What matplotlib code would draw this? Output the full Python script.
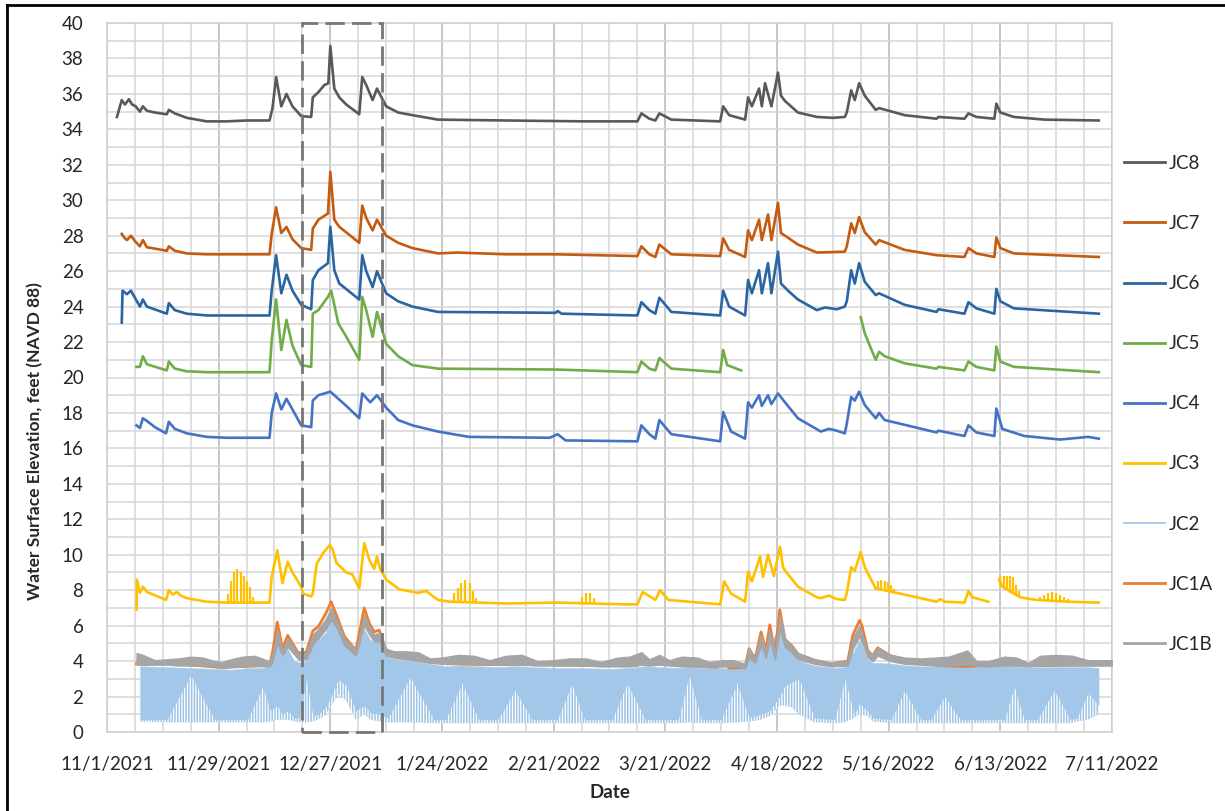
import numpy as np
import matplotlib
matplotlib.use('Agg')
import matplotlib.pyplot as plt
import matplotlib.dates as mdates
from matplotlib.lines import Line2D
from matplotlib.ticker import FixedLocator, FuncFormatter, MultipleLocator

plt.rcParams['font.family'] = ['Lato', 'DejaVu Sans']
plt.rcParams['hatch.linewidth'] = 0.9
plt.rcParams['hatch.color'] = 'white'

# ---------------------------------------------------------------
# data: days since 11/1/2021, water surface elevation (ft NAVD 88)
start_date = '2021-11-01'
end_days = 252            # 7/11/2022
box_range = ('2021-12-20', '2022-01-09')

jc8_days = [2.5, 3.7, 4.5, 5.5, 6.3, 7.2, 8.25, 9.0, 10, 12, 15, 15.5, 17, 20, 25, 30, 35,
            40.75, 41.5, 42.4, 43.7, 45, 46.5, 48.7, 51.2, 51.6, 53, 54.5, 55.5, 56, 57,
            58.25, 60, 63.25, 64, 65, 66.6, 67.7, 70, 73, 76.6, 83, 100, 120, 133, 134,
            136, 137.5, 138.5, 141.5, 153.75, 154.5, 156, 160, 160.75, 161.7, 163.5,
            164.2, 165, 166.6, 168.25, 169, 170, 173.25, 178, 182, 185, 185.5, 186.6,
            187.5, 188.6, 190, 192.75, 193.6, 200, 208, 208.5, 215, 216, 218, 222.5, 223,
            224, 227.4, 235, 248.7]
jc8 = [34.7, 35.65, 35.4, 35.7, 35.4, 35.3, 35.0, 35.3, 35.05, 34.95, 34.85, 35.1, 34.9,
       34.65, 34.45, 34.45, 34.5, 34.5, 35.2, 36.95, 35.3, 36.0, 35.3, 34.75, 34.7, 35.8,
       36.1, 36.5, 36.6, 38.7, 36.3, 35.8, 35.4, 34.85, 36.95, 36.5, 35.65, 36.3, 35.3,
       34.95, 34.8, 34.55, 34.5, 34.45, 34.45, 34.9, 34.6, 34.5, 34.9, 34.55, 34.45, 35.3,
       34.8, 34.55, 35.8, 35.3, 36.3, 35.3, 36.6, 35.3, 37.2, 35.9, 35.6, 34.95, 34.7,
       34.65, 34.7, 34.95, 36.2, 35.65, 36.6, 35.9, 35.1, 35.2, 34.8, 34.6, 34.7, 34.6,
       34.9, 34.7, 34.6, 35.45, 34.95, 34.7, 34.55, 34.5]

jc7_days = [3.7, 4.3, 5.0, 6.0, 7.0, 8.25, 9.0, 10, 15, 15.5, 17, 20, 25, 40.75, 41.3, 42.4,
            43.7, 45, 46.5, 48.7, 51.2, 51.6, 53, 55.4, 56, 57, 58.25, 63.25, 64, 65, 66.6,
            67.7, 70, 73, 76.6, 83, 88, 100, 112.5, 133, 134, 136, 137.5, 138.5, 141.5,
            153.75, 154.5, 156, 160, 160.75, 161.7, 163.5, 164.2, 165.75, 166.6, 168.25,
            169, 171, 173.25, 178, 185, 185.5, 186.6, 187.5, 188.6, 190, 192.75, 193.6,
            200, 208, 215, 216, 218, 222.5, 223, 224, 227.4, 248.7]
jc7 = [28.1, 27.9, 27.75, 28.0, 27.7, 27.4, 27.75, 27.35, 27.15, 27.4, 27.15, 27.0, 26.95,
       26.95, 28.1, 29.6, 28.15, 28.5, 27.8, 27.3, 27.2, 28.4, 28.9, 29.25, 31.6, 28.9,
       28.5, 27.6, 29.7, 29.0, 28.3, 28.9, 28.0, 27.6, 27.3, 27.0, 27.05, 26.95, 26.95,
       26.85, 27.4, 26.95, 26.8, 27.5, 26.95, 26.85, 27.85, 27.2, 26.8, 28.3, 27.75, 28.9,
       27.75, 29.2, 27.75, 29.85, 28.15, 27.85, 27.5, 27.05, 27.1, 27.4, 28.7, 28.15,
       29.05, 28.2, 27.5, 27.75, 27.2, 26.9, 26.8, 27.3, 27.0, 26.8, 27.9, 27.3, 27.0, 26.8]

jc6_days = [3.7, 3.9, 5.0, 6.0, 7.0, 8.25, 9.0, 10, 15, 15.5, 17, 20, 25, 40.75, 41.3, 42.4,
            43.7, 45, 46.5, 48.7, 51.2, 51.6, 53, 55.4, 56, 57, 58.25, 63.25, 64, 65, 66.6,
            67.7, 70, 73, 76.6, 83, 112.5, 113, 114, 133, 134, 136, 137.5, 138.5, 141.5,
            153.75, 154.5, 156, 160, 160.75, 161.7, 163.5, 164.2, 165.75, 166.6, 168.25,
            169, 171, 173.25, 178, 180, 183, 185, 185.5, 186.6, 187.5, 188.6, 190, 192.75,
            193.6, 200, 208, 208.5, 215, 216, 218, 222.5, 223, 224, 227.4, 248.7]
jc6 = [23.1, 24.9, 24.7, 24.9, 24.5, 24.0, 24.4, 24.0, 23.6, 24.2, 23.8, 23.6, 23.5, 23.5,
       24.9, 26.9, 24.75, 25.8, 24.9, 24.1, 23.85, 25.5, 26.05, 26.45, 28.5, 26.05, 25.3,
       24.4, 26.9, 26.0, 25.1, 26.0, 24.75, 24.3, 24.0, 23.7, 23.65, 23.75, 23.6, 23.5,
       24.25, 23.8, 23.6, 24.5, 23.7, 23.5, 24.9, 24.0, 23.5, 25.5, 24.75, 26.05, 24.75,
       26.45, 24.75, 27.1, 25.3, 24.85, 24.4, 23.8, 23.95, 23.85, 24.0, 24.3, 26.05, 25.3,
       26.45, 25.4, 24.65, 24.75, 24.1, 23.7, 23.85, 23.6, 24.25, 23.9, 23.6, 25.0, 24.3,
       23.9, 23.6]

jc5_days = [7.4, 8.25, 9.0, 10, 15, 15.5, 17, 20, 25, 40.75, 41.3, 42.4, 43.7, 45, 46.5,
            48.7, 51.2, 51.6, 53, 55.4, 56.2, 57, 58, 60, 63.25, 64, 65, 66.6, 67.7, 70, 73,
            76.6, 83, 112.5, 133, 134, 136, 137.5, 138.5, 141.5, 153.75, 154.5, 155.5, 159,
            160, 189, 190, 192, 192.75, 193.6, 195, 200, 208, 208.5, 215, 216, 218, 222.5,
            223, 224, 227.4, 248.7]
jc5 = [20.6, 20.6, 21.2, 20.75, 20.4, 20.9, 20.5, 20.35, 20.3, 20.3, 22.1, 24.4, 21.55,
       23.25, 21.8, 20.7, 20.6, 23.6, 23.8, 24.55, 24.9, 24.1, 23.05, 22.3, 21.0, 24.55,
       23.8, 22.3, 23.7, 21.9, 21.2, 20.7, 20.5, 20.45, 20.3, 20.9, 20.5, 20.4, 21.1, 20.5,
       20.3, 21.55, 20.7, 20.4, np.nan, 23.4, 22.5, 21.4, 21.0, 21.45, 21.2, 20.8, 20.5,
       20.6, 20.4, 20.9, 20.6, 20.4, 21.75, 20.9, 20.6, 20.3]

jc4_days = [7.4, 8.25, 9.0, 10, 12, 14.8, 15.5, 17, 20, 25, 30, 40, 40.75, 41.3, 42.4, 43.7,
            45, 46.5, 48.7, 51.2, 51.6, 53, 54.5, 56, 57.5, 60, 63.25, 64, 66, 67.7, 70, 73,
            76.6, 83, 90.75, 111, 113, 115, 133, 134, 136, 137.5, 138.5, 141.5, 153.75,
            154.5, 156.5, 160, 160.75, 161.7, 163.5, 164.2, 165.75, 166.6, 168.25, 170,
            173.25, 179, 181, 183, 185, 185.5, 186.6, 187.5, 188.6, 190, 192.75, 193.6, 195,
            208, 208.5, 215, 216, 218, 222.5, 223, 224.5, 230, 239, 246, 248.7]
jc4 = [17.3, 17.15, 17.7, 17.55, 17.2, 16.85, 17.5, 17.1, 16.85, 16.65, 16.6, 16.6, 16.6,
       18.0, 19.1, 18.2, 18.8, 18.2, 17.3, 17.2, 18.7, 19.0, 19.1, 19.2, 18.9, 18.4, 17.7,
       19.1, 18.6, 19.0, 18.3, 17.6, 17.3, 16.95, 16.65, 16.6, 16.8, 16.45, 16.4, 17.3,
       16.8, 16.55, 17.6, 16.8, 16.4, 18.05, 16.95, 16.55, 18.6, 18.3, 19.0, 18.4, 19.0,
       18.5, 19.1, 18.6, 17.7, 16.95, 17.1, 17.0, 16.85, 17.4, 18.9, 18.7, 19.2, 18.45,
       17.7, 18.0, 17.6, 16.9, 17.0, 16.7, 17.3, 16.9, 16.7, 18.25, 17.1, 16.7, 16.5,
       16.65, 16.55]

jc3_days = [7.4, 7.5, 8.25, 9.0, 10, 14.8, 15.5, 16.5, 17.5, 18.5, 20, 25, 30, 40.75, 41.3,
            42.7, 44, 45.3, 46.5, 48.7, 49.2, 51.2, 51.6, 52.6, 54.2, 55.9, 56.6, 57.5, 60,
            61.5, 63.25, 64.5, 65.8, 67, 67.7, 68.5, 70, 73.25, 78, 80, 83, 86, 100, 113,
            130, 133, 134.3, 137.5, 138.7, 140.75, 153.75, 154.75, 156.5, 160, 160.75,
            161.7, 163.75, 164.5, 165.75, 167.2, 168.75, 169.5, 170.2, 173.25, 178, 179,
            181, 183, 185, 185.5, 186.6, 187.5, 189, 190, 192.75, 198, 208, 209, 210, 215,
            216, 217, 221, 222, 223.7, 224.5, 229, 233, 241, 248.7]
jc3 = [6.9, 8.6, 7.85, 8.2, 7.9, 7.45, 8.0, 7.75, 7.9, 7.7, 7.55, 7.35, 7.3, 7.3, 8.75,
       10.25, 8.4, 9.6, 9.0, 8.2, 7.8, 7.65, 7.8, 9.5, 10.1, 10.55, 10.3, 9.55, 9.0, 8.9,
       8.1, 10.65, 9.7, 9.2, 9.9, 9.2, 8.6, 8.05, 7.85, 7.95, 7.45, 7.35, 7.25, 7.3, 7.2,
       7.2, 7.9, 7.45, 8.0, 7.45, 7.2, 8.5, 7.8, 7.35, 9.05, 8.5, 9.9, 8.75, 10.0, 8.8,
       10.45, 9.3, 9.05, 8.2, 7.6, 7.55, 7.7, 7.5, 7.45, 7.85, 9.3, 9.1, 10.15, 9.3, 8.1,
       7.85, 7.35, 7.5, 7.35, 7.3, 7.95, 7.6, 7.35, np.nan, 8.6, 8.2, 7.6, 7.45, 7.35, 7.3]

# JC3 short tidal spikes
jc3_spike_days = [30.3, 31.1, 31.9, 32.7, 33.5, 34.3, 35.1, 35.9, 36.7,
                  87.0, 88.0, 88.8, 89.8, 90.9, 91.7, 92.6,
                  119, 120, 121, 122,
                  193.3, 194.2, 195.0, 195.8, 196.6, 197.4,
                  224.0, 224.8, 225.6, 226.4, 227.2, 228.0, 228.8,
                  234, 235, 236, 237, 238, 239, 240, 241]
jc3_spike_base = [7.3, 7.3, 7.3, 7.3, 7.3, 7.3, 7.3, 7.3, 7.3,
                  7.35, 7.35, 7.35, 7.35, 7.35, 7.35, 7.35,
                  7.25, 7.25, 7.25, 7.25,
                  8.1, 8.05, 8.0, 7.95, 7.9, 7.85,
                  8.3, 8.1, 7.95, 7.85, 7.8, 7.7, 7.65,
                  7.4, 7.4, 7.4, 7.4, 7.4, 7.4, 7.4, 7.4]
jc3_spike_top = [7.8, 8.5, 9.0, 9.2, 9.0, 8.8, 8.5, 8.2, 7.6,
                 7.85, 8.1, 8.4, 8.6, 8.4, 7.95, 7.55,
                 7.6, 7.85, 7.85, 7.55,
                 8.5, 8.55, 8.5, 8.45, 8.3, 8.05,
                 8.8, 8.8, 8.8, 8.8, 8.75, 8.3, 7.95,
                 7.6, 7.75, 7.85, 7.9, 7.85, 7.75, 7.6, 7.5]

jc2_days = [8.25, 15, 21, 27, 31, 35.3, 39, 41, 42.7, 44, 45.3, 47, 48.3, 50, 51.6, 53,
            54.9, 56.2, 58, 60, 62.4, 64.5, 66, 68.25, 70.5, 76, 82, 84.9, 89, 93.25, 98,
            102.3, 106.6, 113, 116.5, 119.7, 126.6, 130.5, 135, 143.25, 146, 149, 154, 158,
            161, 164, 166.2, 168.7, 170, 171.6, 173.5, 177.4, 182.4, 185, 187.4, 188.7,
            190.75, 192, 196.6, 200, 204, 206.6, 210, 214, 225, 227.5, 230, 233.25, 237.5,
            241.6, 243.25, 246, 248.7]
jc2_hi = [3.7, 3.65, 3.6, 3.55, 3.5, 3.6, 3.6, 3.7, 5.0, 4.2, 4.7, 4.0, 3.9, 4.0, 4.8, 5.2,
          5.6, 6.2, 5.6, 5.0, 4.2, 5.8, 5.2, 5.0, 4.2, 4.0, 3.8, 3.7, 3.75, 3.7, 3.65, 3.7,
          3.65, 3.6, 3.6, 3.6, 3.55, 3.6, 3.7, 3.6, 3.65, 3.6, 3.6, 3.6, 4.1, 4.8, 5.0, 5.8,
          5.0, 4.5, 4.0, 3.75, 3.6, 3.65, 4.6, 5.2, 4.1, 3.9, 3.85, 3.75, 3.7, 3.7, 3.7,
          3.7, 3.7, 3.7, 3.65, 3.65, 3.65, 3.65, 3.65, 3.65, 3.6]
jc2_solid = [0.7, 0.7, 3.2, 0.7, 0.7, 0.7, 2.55, 1.2, 1.5, 1.0, 1.2, 0.8, 0.8, 3.0, 0.9,
             1.0, 1.4, 2.0, 3.0, 2.6, 1.2, 1.5, 1.1, 1.0, 0.8, 3.1, 0.7, 0.7, 2.75, 0.7,
             0.7, 2.35, 0.7, 0.7, 2.75, 0.7, 0.7, 2.75, 0.7, 0.7, 3.2, 0.7, 0.7, 2.75, 0.8,
             1.0, 1.2, 2.0, 2.6, 2.8, 3.0, 0.8, 0.7, 3.0, 1.0, 1.6, 1.2, 0.8, 0.7, 2.35,
             0.7, 0.7, 2.0, 0.7, 0.7, 2.55, 0.7, 0.7, 2.35, 0.7, 0.8, 2.2, 1.5]
jc2_lo = [0.6, 0.55, 0.55, 0.55, 0.55, 0.55, 0.55, 0.6, 0.7, 0.7, 0.7, 0.6, 0.55, 0.55,
          0.6, 0.7, 1.0, 1.5, 2.1, 1.8, 0.7, 1.0, 0.7, 0.6, 0.55, 0.55, 0.5, 0.5, 0.5, 0.5,
          0.5, 0.5, 0.5, 0.5, 0.5, 0.5, 0.5, 0.5, 0.5, 0.5, 0.55, 0.5, 0.5, 0.55, 0.6,
          0.7, 0.9, 1.5, 1.5, 1.4, 1.0, 0.55, 0.5, 0.55, 0.8, 1.0, 0.9, 0.6, 0.5, 0.5,
          0.5, 0.5, 0.5, 0.5, 0.5, 0.5, 0.5, 0.5, 0.5, 0.5, 0.6, 0.7, 1.0]

jc1a_days = [7.4, 10, 15, 15.5, 20, 28, 35, 40.75, 41.5, 42.7, 44, 45.3, 48, 50, 51.6, 53,
             54.9, 56.2, 57.7, 59.5, 62.4, 64.5, 65.75, 67, 68.25, 70, 72.5, 76, 80, 85, 95,
             110, 120, 133, 134.5, 136, 138.5, 141, 153, 154.5, 156, 160, 161, 162.5, 164,
             165.2, 166.2, 167.5, 168.7, 170, 171.6, 173.25, 177.4, 181.6, 185.75, 187,
             188.7, 189.3, 190.75, 192, 193.25, 196.5, 203, 209, 215, 220, 225, 235, 252]
jc1a = [3.85, 3.8, 3.95, 4.0, 3.8, 3.65, 3.7, 3.75, 4.5, 6.2, 4.7, 5.45, 4.45, 4.5, 5.7,
        5.95, 6.7, 7.35, 6.5, 5.4, 4.6, 7.0, 6.15, 5.65, 5.75, 4.6, 4.4, 4.25, 4.0, 3.85,
        3.8, 3.8, 3.75, 3.75, 4.15, 3.8, 4.2, 3.8, 3.65, 4.0, 3.6, 3.65, 4.7, 4.1, 5.65,
        4.6, 6.05, 4.4, 6.9, 5.2, 4.9, 4.4, 4.05, 3.85, 4.0, 5.45, 6.3, 6.0, 4.6, 4.3,
        4.75, 4.3, 3.9, 3.75, 3.7, 3.75, 3.8, 3.75, 3.8]

jc1b_days = [7.4, 9, 12, 15, 18, 21, 24, 27, 29, 31, 34, 37, 40, 40.75, 41.5, 42.7, 44,
             45.3, 48, 50, 51.6, 53, 54.9, 56.2, 57.7, 59.5, 62.4, 64.5, 65.75, 67, 68.25,
             70, 72, 75, 78, 81, 84, 88, 92, 96, 100, 104, 108, 112, 116, 120, 124, 128,
             131, 134, 136, 138.5, 141, 144, 148, 151, 154.5, 157, 160, 161, 162.5, 164,
             165.2, 166.2, 167.5, 168.7, 170, 171.6, 173.25, 177.4, 181.6, 185.75, 187,
             188.7, 190.75, 192, 193.25, 196.5, 200, 204, 208, 211, 215.75, 218, 221, 225,
             228, 231, 234, 238, 242, 246, 252]
jc1b_hi = [4.45, 4.35, 4.05, 4.1, 4.15, 4.25, 4.2, 4.0, 3.95, 4.1, 4.25, 4.3, 4.05, 4.0,
           4.4, 5.8, 4.6, 5.3, 4.4, 4.5, 5.5, 5.8, 6.4, 7.0, 6.3, 5.3, 4.6, 6.6, 6.0, 5.5,
           5.6, 4.7, 4.55, 4.55, 4.5, 4.15, 4.2, 4.35, 4.3, 4.05, 4.3, 4.35, 4.0, 4.05,
           4.15, 4.15, 3.95, 4.2, 4.25, 4.5, 4.1, 4.35, 4.05, 4.25, 4.2, 3.95, 4.05, 4.05,
           3.85, 4.75, 4.2, 5.5, 4.6, 5.8, 4.5, 6.6, 5.3, 4.9, 4.45, 4.1, 3.9, 4.05, 5.3,
           6.0, 4.6, 4.35, 4.75, 4.35, 4.2, 4.15, 4.2, 4.25, 4.6, 4.0, 4.0, 4.25, 4.2, 3.9,
           4.3, 4.35, 4.3, 4.05, 4.05]
jc1b_lo = [3.8, 3.8, 3.8, 3.8, 3.75, 3.75, 3.75, 3.7, 3.6, 3.65, 3.7, 3.75, 3.7, 3.7, 4.0,
           5.0, 4.3, 4.8, 4.1, 4.1, 4.9, 5.3, 5.8, 6.3, 5.8, 4.9, 4.3, 6.0, 5.5, 5.1, 5.1,
           4.3, 4.2, 4.1, 4.0, 3.9, 3.85, 3.85, 3.85, 3.8, 3.8, 3.8, 3.75, 3.75, 3.75, 3.75,
           3.7, 3.7, 3.7, 3.8, 3.75, 3.8, 3.75, 3.7, 3.7, 3.65, 3.7, 3.7, 3.6, 4.2, 3.9,
           4.9, 4.2, 5.2, 4.1, 5.8, 4.8, 4.5, 4.1, 3.85, 3.7, 3.75, 4.7, 5.4, 4.2, 4.0, 4.3,
           4.0, 3.85, 3.8, 3.75, 3.75, 3.8, 3.75, 3.7, 3.75, 3.75, 3.7, 3.75, 3.75, 3.75,
           3.75, 3.75]

colors = {'JC8': '#595959', 'JC7': '#C55A11', 'JC6': '#2A65A3', 'JC5': '#70AD47',
          'JC4': '#4472C4', 'JC3': '#FFC000', 'JC2': '#9DC3E6', 'JC1A': '#ED7D31',
          'JC1B': '#A5A5A5'}

# ---------------------------------------------------------------
START = mdates.date2num(np.datetime64(start_date))


def dx(days):
    return START + np.asarray(days, dtype=float)


fig = plt.figure(figsize=(12.25, 8.11), dpi=100)
ax = fig.add_axes([107 / 1225, 1 - 732 / 811, 1005 / 1225, 709 / 811])

# JC2 tide band: hatched part = sparse low-tide spikes, plain part = dense tides
ax.fill_between(dx(jc2_days), jc2_lo, jc2_hi, fc=colors['JC2'], ec='white', lw=0,
                hatch='||||||', zorder=2)
ax.fill_between(dx(jc2_days), jc2_solid, jc2_hi, color='#A3C7E8', lw=0, zorder=2.1)

ax.plot(dx(jc1a_days), jc1a, color=colors['JC1A'], lw=2.0, zorder=3)
ax.fill_between(dx(jc1b_days), jc1b_lo, jc1b_hi, color=colors['JC1B'], lw=1.0,
                ec=colors['JC1B'], zorder=3.5)

ax.plot(dx(jc3_days), jc3, color=colors['JC3'], lw=1.9, zorder=4)
ax.vlines(dx(jc3_spike_days), jc3_spike_base, jc3_spike_top, color=colors['JC3'],
          lw=1.6, zorder=4)
ax.plot(dx(jc4_days), jc4, color=colors['JC4'], lw=1.9, zorder=4)
ax.plot(dx(jc5_days), jc5, color=colors['JC5'], lw=1.9, zorder=4)
ax.plot(dx(jc6_days), jc6, color=colors['JC6'], lw=1.9, zorder=4)
ax.plot(dx(jc7_days), jc7, color=colors['JC7'], lw=1.9, zorder=4)
ax.plot(dx(jc8_days), jc8, color=colors['JC8'], lw=1.9, zorder=4)

# highlighted period
b0, b1 = (mdates.date2num(np.datetime64(d)) for d in box_range)
ax.axvspan(b0, b1, fill=False, ec='#767676', lw=2.0, ls=(0, (7, 2.6)), zorder=6,
           clip_on=False)

# axes
ax.set_xlim(START, START + end_days)
ax.set_ylim(0, 40)
ax.xaxis.set_major_locator(FixedLocator(START + np.arange(0, end_days + 1, 28)))
ax.xaxis.set_minor_locator(FixedLocator(START + np.arange(0, end_days + 1, 7)))


def fmt_date(v, pos):
    d = mdates.num2date(v)
    return f'{d.month}/{d.day}/{d.year}'


ax.xaxis.set_major_formatter(FuncFormatter(fmt_date))
ax.yaxis.set_major_locator(MultipleLocator(2))
ax.yaxis.set_minor_locator(MultipleLocator(1))
ax.tick_params(which='both', length=0)
ax.tick_params(axis='x', pad=17, labelsize=13.5, labelcolor='#262626')
ax.tick_params(axis='y', pad=17, labelsize=13.5, labelcolor='#262626')

ax.grid(axis='y', which='both', color='#D6D6D6', lw=1.1, zorder=0)
ax.grid(axis='x', which='major', color='#BDBDBD', lw=1.2, zorder=0)
ax.grid(axis='x', which='minor', color='#D6D6D6', lw=1.1, zorder=0)
ax.set_axisbelow(True)
for s in ax.spines.values():
    s.set_color('#D0D0D0')
    s.set_linewidth(1.1)

ax.set_xlabel('Date', fontsize=13.5, fontweight='bold', color='#262626', labelpad=8)
fig.text(35 / 1225, 1 - 441 / 811, 'Water Surface Elevation, feet (NAVD 88)',
         rotation=90, ha='center', va='center', fontsize=12.5, fontweight='bold',
         color='#262626')

# legend
names = ['JC8', 'JC7', 'JC6', 'JC5', 'JC4', 'JC3', 'JC2', 'JC1A', 'JC1B']
handles = [Line2D([], [], color=colors[n], lw=(1.2 if n == 'JC2' else 2.0)) for n in names]
fig.legend(handles, names, loc='upper left', bbox_to_anchor=(1107 / 1225, 1 - 138 / 811),
           frameon=False, fontsize=13.5, labelspacing=2.3, handlelength=2.2,
           handletextpad=0.2, labelcolor='#262626')

# outer frame (left and top)
fig.add_artist(Line2D([7 / 1225, 7 / 1225], [0, 1 - 5 / 811], color='black', lw=2,
                      transform=fig.transFigure))
fig.add_artist(Line2D([7 / 1225, 1], [1 - 5 / 811, 1 - 5 / 811], color='black', lw=2,
                      transform=fig.transFigure))

fig.savefig('out.png', dpi=100)
